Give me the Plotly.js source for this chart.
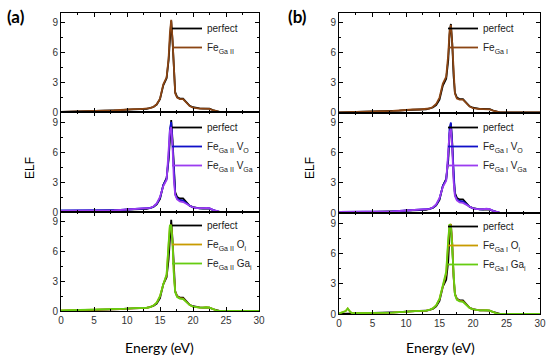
<!DOCTYPE html>
<html>
<head>
<meta charset="utf-8">
<script src="https://cdn.plot.ly/plotly-3.0.1.min.js"></script>
<style>html,body{margin:0;padding:0;background:#fff;}#chart{width:550px;height:359px;}</style>
</head>
<body>
<div id="chart"></div>
<script>
// Energy grid (eV)
const energy = [0,1,1.3,1.7,2,3,4,5,6,7,8,9,10,11,12,13,13.5,14,14.5,15,15.5,16,16.3,16.5,16.7,16.9,17.1,17.3,17.6,18,18.5,19,19.5,20,20.5,21,21.5,22,22.5,23,23.5,24,25,27,30];

// Panel (a)
const perfectA = [0.02,0.03,0.03,0.04,0.04,0.06,0.08,0.1,0.11,0.12,0.14,0.18,0.24,0.3,0.3,0.32,0.38,0.5,0.75,1.3,2.7,3.4,5.2,7.8,9.2,7.2,3.8,2.0,1.5,1.35,1.35,0.95,0.62,0.48,0.4,0.36,0.35,0.37,0.34,0.2,0.08,0.02,0,0,0];
const feGaII = [0.02,0.03,0.03,0.04,0.05,0.07,0.09,0.11,0.12,0.13,0.15,0.2,0.26,0.3,0.3,0.33,0.4,0.52,0.78,1.35,2.8,3.5,5.4,8.0,9.3,7.3,3.7,1.9,1.45,1.3,1.3,0.9,0.6,0.45,0.38,0.35,0.34,0.36,0.32,0.18,0.07,0.01,0,0,0];
const feGaII_VO = [0.15,0.15,0.15,0.15,0.15,0.14,0.13,0.13,0.13,0.14,0.16,0.2,0.25,0.3,0.32,0.35,0.4,0.52,0.8,1.4,2.7,3.3,5.5,8.3,9.0,6.8,3.4,1.8,1.35,1.2,1.15,0.9,0.62,0.47,0.4,0.37,0.36,0.4,0.36,0.2,0.08,0.02,0,0,0];
const feGaII_VGa = [0.12,0.12,0.12,0.12,0.12,0.12,0.12,0.12,0.13,0.14,0.16,0.2,0.25,0.3,0.32,0.36,0.42,0.55,0.85,1.5,2.6,3.2,5.6,8.1,8.5,6.5,3.2,1.7,1.25,1.05,1.0,0.8,0.58,0.45,0.4,0.38,0.38,0.42,0.38,0.22,0.1,0.03,0,0,0];
const feGaII_Oi = [0.05,0.06,0.06,0.06,0.07,0.08,0.09,0.1,0.11,0.12,0.14,0.18,0.24,0.3,0.3,0.33,0.4,0.55,0.85,1.5,2.7,3.6,6.5,8.6,8.7,7.0,3.8,2.0,1.45,1.3,1.25,0.9,0.6,0.45,0.38,0.35,0.35,0.38,0.33,0.18,0.07,0.01,0,0,0];
const feGaII_Gai = [0.05,0.07,0.07,0.07,0.08,0.08,0.09,0.1,0.11,0.12,0.14,0.18,0.24,0.3,0.3,0.33,0.4,0.55,0.85,1.5,2.7,3.7,6.8,8.7,8.6,6.8,3.6,1.9,1.4,1.25,1.2,0.88,0.6,0.45,0.38,0.35,0.35,0.38,0.33,0.18,0.07,0.01,0,0,0];

// Panel (b)
const perfectB = [0.02,0.03,0.03,0.04,0.04,0.06,0.08,0.1,0.11,0.12,0.14,0.18,0.24,0.3,0.3,0.32,0.38,0.5,0.75,1.3,2.7,3.4,5.2,7.8,8.9,7.0,3.7,2.0,1.5,1.35,1.35,0.95,0.62,0.48,0.4,0.36,0.35,0.37,0.34,0.2,0.08,0.02,0,0,0];
const feGaI = [0.02,0.03,0.03,0.04,0.05,0.07,0.09,0.11,0.12,0.14,0.16,0.2,0.26,0.3,0.3,0.33,0.4,0.55,0.85,1.5,2.9,3.6,5.8,8.2,8.8,6.9,3.5,1.9,1.4,1.3,1.3,0.9,0.6,0.45,0.38,0.35,0.34,0.36,0.32,0.18,0.07,0.01,0,0,0];
const feGaI_VO = [0.12,0.12,0.12,0.12,0.12,0.12,0.12,0.12,0.13,0.14,0.16,0.2,0.25,0.3,0.32,0.35,0.4,0.52,0.8,1.4,2.7,3.3,5.6,8.4,9.0,6.8,3.4,1.8,1.35,1.2,1.15,0.9,0.62,0.47,0.4,0.37,0.36,0.4,0.36,0.2,0.08,0.02,0,0,0];
const feGaI_VGa = [0.1,0.1,0.1,0.1,0.1,0.11,0.11,0.12,0.13,0.14,0.16,0.2,0.25,0.3,0.32,0.36,0.42,0.55,0.85,1.5,2.6,3.2,5.6,8.0,8.4,6.4,3.2,1.7,1.25,1.05,1.0,0.8,0.58,0.45,0.4,0.38,0.38,0.42,0.38,0.22,0.1,0.03,0,0,0];
const feGaI_Oi = [0.05,0.3,0.55,0.2,0.08,0.08,0.09,0.1,0.11,0.12,0.14,0.18,0.24,0.3,0.3,0.33,0.4,0.55,0.85,1.5,2.8,4.0,7.0,8.8,8.9,7.0,3.8,2.0,1.45,1.3,1.25,0.9,0.6,0.45,0.38,0.35,0.35,0.38,0.33,0.18,0.07,0.01,0,0,0];
const feGaI_Gai = [0.05,0.3,0.55,0.2,0.08,0.08,0.09,0.1,0.11,0.12,0.14,0.18,0.24,0.3,0.3,0.33,0.4,0.55,0.85,1.5,2.9,4.2,7.4,8.9,8.6,6.6,3.5,1.9,1.4,1.25,1.2,0.88,0.6,0.45,0.38,0.35,0.35,0.38,0.33,0.18,0.07,0.01,0,0,0];

const colBlack = '#000000', colBrown = '#8b4513', colBlue = '#1010c8', colPurple = '#9b3cf0', colGold = '#c89b00', colGreen = '#66cc11';

function tr(y, name, color, ax, leg) {
  return {x: energy, y: y, name: name, type: 'scatter', mode: 'lines',
    line: {color: color, width: 1.8}, xaxis: 'x' + ax, yaxis: 'y' + ax, legend: leg};
}

const data = [
  tr(perfectA, 'perfect', colBlack, '', 'legend'),
  tr(feGaII, 'Fe<sub>Ga II</sub>', colBrown, '', 'legend'),
  tr(perfectA, 'perfect', colBlack, '2', 'legend2'),
  tr(feGaII_VO, 'Fe<sub>Ga II</sub> V<sub>O</sub>', colBlue, '2', 'legend2'),
  tr(feGaII_VGa, 'Fe<sub>Ga II</sub> V<sub>Ga</sub>', colPurple, '2', 'legend2'),
  tr(perfectA, 'perfect', colBlack, '3', 'legend3'),
  tr(feGaII_Oi, 'Fe<sub>Ga II</sub> O<sub>i</sub>', colGold, '3', 'legend3'),
  tr(feGaII_Gai, 'Fe<sub>Ga II</sub> Ga<sub>i</sub>', colGreen, '3', 'legend3'),
  tr(perfectB, 'perfect', colBlack, '4', 'legend4'),
  tr(feGaI, 'Fe<sub>Ga I</sub>', colBrown, '4', 'legend4'),
  tr(perfectB, 'perfect', colBlack, '5', 'legend5'),
  tr(feGaI_VO, 'Fe<sub>Ga I</sub> V<sub>O</sub>', colBlue, '5', 'legend5'),
  tr(feGaI_VGa, 'Fe<sub>Ga I</sub> V<sub>Ga</sub>', colPurple, '5', 'legend5'),
  tr(perfectB, 'perfect', colBlack, '6', 'legend6'),
  tr(feGaI_Oi, 'Fe<sub>Ga I</sub> O<sub>i</sub>', colGold, '6', 'legend6'),
  tr(feGaI_Gai, 'Fe<sub>Ga I</sub> Ga<sub>i</sub>', colGreen, '6', 'legend6')
];

const W = 550, H = 359;
const px = v => v / W;
const py = v => 1 - v / H;
const tickFont = {family: 'Arial, Liberation Sans, sans-serif', size: 10, color: '#333'};

function xax(dom, anchor, labels) {
  return {domain: dom, anchor: anchor, range: [0, 30], tick0: 0, dtick: 5,
    ticks: 'inside', ticklen: 4, tickwidth: 1, tickcolor: '#000',
    minor: {ticks: 'inside', ticklen: 2, dtick: 2.5, tickcolor: '#000', tickwidth: 1},
    showline: true, linecolor: '#000', linewidth: 1, mirror: 'ticks',
    showgrid: false, zeroline: false, showticklabels: labels, tickfont: tickFont, ticklabelstandoff: 0};
}
function yax(dom, anchor) {
  return {domain: dom, anchor: anchor, range: [0, 10], tick0: 0, dtick: 3,
    ticks: 'inside', ticklen: 4, tickwidth: 1, tickcolor: '#000',
    minor: {ticks: 'inside', ticklen: 2, dtick: 1.5, tickcolor: '#000', tickwidth: 1},
    showline: true, linecolor: '#000', linewidth: 1, mirror: 'ticks',
    showgrid: false, zeroline: false, tickfont: tickFont};
}
function leg(xpx, ypx) {
  return {x: px(xpx), y: py(ypx), xanchor: 'left', yanchor: 'top', bgcolor: 'rgba(0,0,0,0)',
    font: {family: 'Arial, Liberation Sans, sans-serif', size: 10, color: '#222'},
    tracegroupgap: 0, itemclick: false};
}
function ann(text, x, y, font, angle) {
  return {text: text, x: px(x), y: py(y), xref: 'paper', yref: 'paper', xanchor: 'center', yanchor: 'middle',
    showarrow: false, textangle: angle || 0, font: font};
}

const xa = [px(61), px(259)], xb = [px(339), px(540)];
const titleFont = {family: 'Lato, Open Sans, sans-serif', size: 17, color: '#000'};
const elfFont = {family: 'Arial, Liberation Sans, sans-serif', size: 12, color: '#000'};
const energyFont = {family: 'Lato, sans-serif', size: 14, color: '#000'};
const layout = {
  width: W, height: H, margin: {l: 0, r: 0, t: 0, b: 0},
  paper_bgcolor: '#fff', plot_bgcolor: '#fff', showlegend: true,
  xaxis: xax(xa, 'y', false), yaxis: yax([py(112), py(13)], 'x'),
  xaxis2: xax(xa, 'y2', false), yaxis2: yax([py(212), py(112)], 'x2'),
  xaxis3: xax(xa, 'y3', true), yaxis3: yax([py(311), py(212)], 'x3'),
  xaxis4: xax(xb, 'y4', false), yaxis4: yax([py(112.5), py(13)], 'x4'),
  xaxis5: xax(xb, 'y5', false), yaxis5: yax([py(213), py(112.5)], 'x5'),
  xaxis6: xax(xb, 'y6', true), yaxis6: yax([py(314), py(213)], 'x6'),
  legend: leg(167, 14), legend2: leg(167, 113), legend3: leg(167, 211),
  legend4: leg(443, 14), legend5: leg(443, 113), legend6: leg(443, 212),
  annotations: [
    ann('<b>(a)</b>', 16, 17, titleFont),
    ann('<b>(b)</b>', 297, 17, titleFont),
    ann('ELF', 30, 168, elfFont, -90),
    ann('ELF', 310, 168, elfFont, -90),
    ann('Energy (eV)', 159, 347, energyFont),
    ann('Energy (eV)', 440, 347, energyFont)
  ]
};

Plotly.newPlot('chart', data, layout, {staticPlot: true, displayModeBar: false});
</script>
</body>
</html>
